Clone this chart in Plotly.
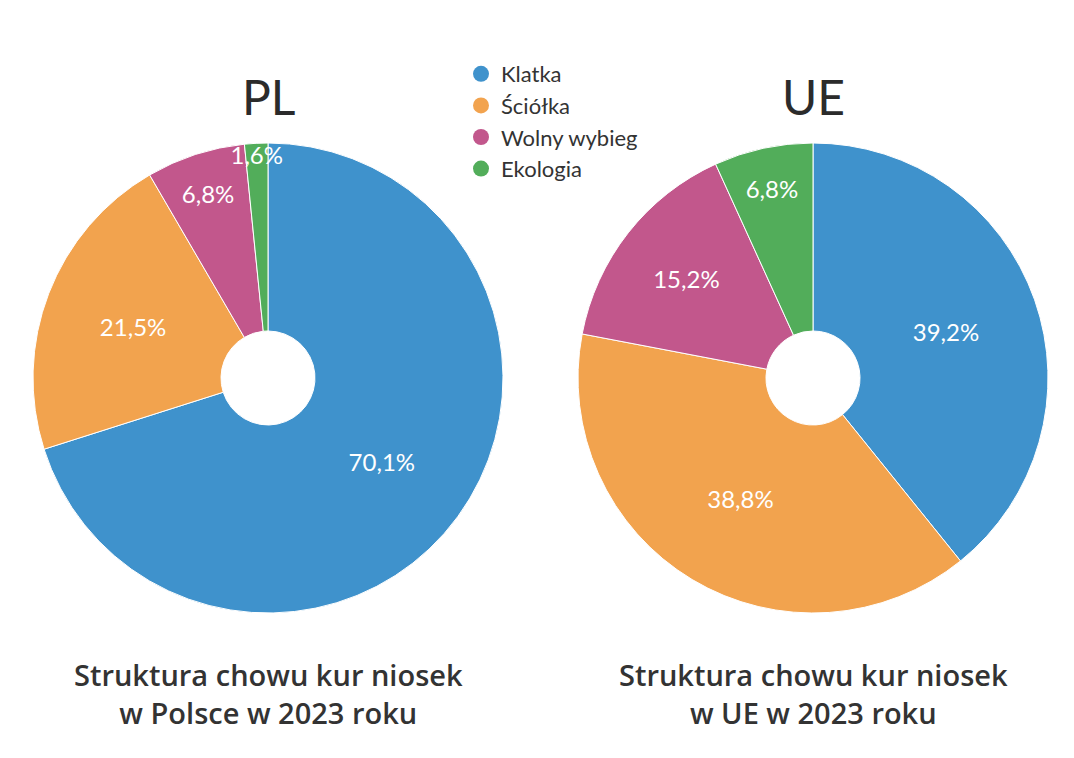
import plotly.graph_objects as go

categories = ["Klatka", "Ściółka", "Wolny wybieg", "Ekologia"]
pl_values = [70.1, 21.5, 6.8, 1.6]
ue_values = [39.2, 38.8, 15.2, 6.8]
colors = ["#3f92cc", "#f2a34e", "#c2578c", "#52ad5a"]

W, H = 1074, 758

def fmt(v):
    return f"{v:.1f}".replace(".", ",") + "%"

def px_x(p):
    return p / W

def px_y(p):
    return 1 - p / H

fig = go.Figure()

for vals, dom_x in [(pl_values, (33, 503)), (ue_values, (578, 1048))]:
    fig.add_trace(go.Pie(
        labels=categories,
        values=vals,
        text=[fmt(v) for v in vals],
        textinfo="text",
        textposition="inside",
        insidetextorientation="horizontal",
        textfont=dict(family="Lato", size=24, color="white"),
        marker=dict(colors=colors, line=dict(color="white", width=1)),
        hole=0.2,
        sort=False,
        direction="clockwise",
        rotation=0,
        showlegend=False,
        hoverinfo="label+text",
        domain=dict(x=[px_x(dom_x[0]), px_x(dom_x[1])], y=[px_y(613), px_y(143)]),
    ))

for cat, col in zip(categories, colors):
    fig.add_trace(go.Scatter(
        x=[None], y=[None], mode="markers", name=cat,
        marker=dict(color=col, size=18, symbol="circle"),
        showlegend=True,
    ))

annotations = [
    dict(text="PL", x=px_x(268), y=px_y(97), font=dict(family="Lato", size=48, color="#2b2b2b")),
    dict(text="UE", x=px_x(813), y=px_y(97), font=dict(family="Lato", size=48, color="#2b2b2b")),
    dict(text="Struktura chowu kur niosek<br>w Polsce w 2023 roku", x=px_x(268), y=px_y(693),
         font=dict(family="Open Sans", size=29, color="#333333", weight=600)),
    dict(text="Struktura chowu kur niosek<br>w UE w 2023 roku", x=px_x(813), y=px_y(693),
         font=dict(family="Open Sans", size=29, color="#333333", weight=600)),
]
for a in annotations:
    a.update(xref="paper", yref="paper", showarrow=False, xanchor="center", yanchor="middle")

fig.update_layout(
    width=W, height=H,
    margin=dict(l=0, r=0, t=0, b=0),
    paper_bgcolor="white", plot_bgcolor="white",
    xaxis=dict(visible=False), yaxis=dict(visible=False),
    uniformtext=dict(minsize=24, mode="show"),
    legend=dict(x=px_x(461), y=px_y(53), xanchor="left", yanchor="top",
                font=dict(family="Lato", size=22, color="#333333"),
                bgcolor="rgba(0,0,0,0)", itemsizing="trace", tracegroupgap=0),
    annotations=annotations,
)

fig.write_html("out.html")
